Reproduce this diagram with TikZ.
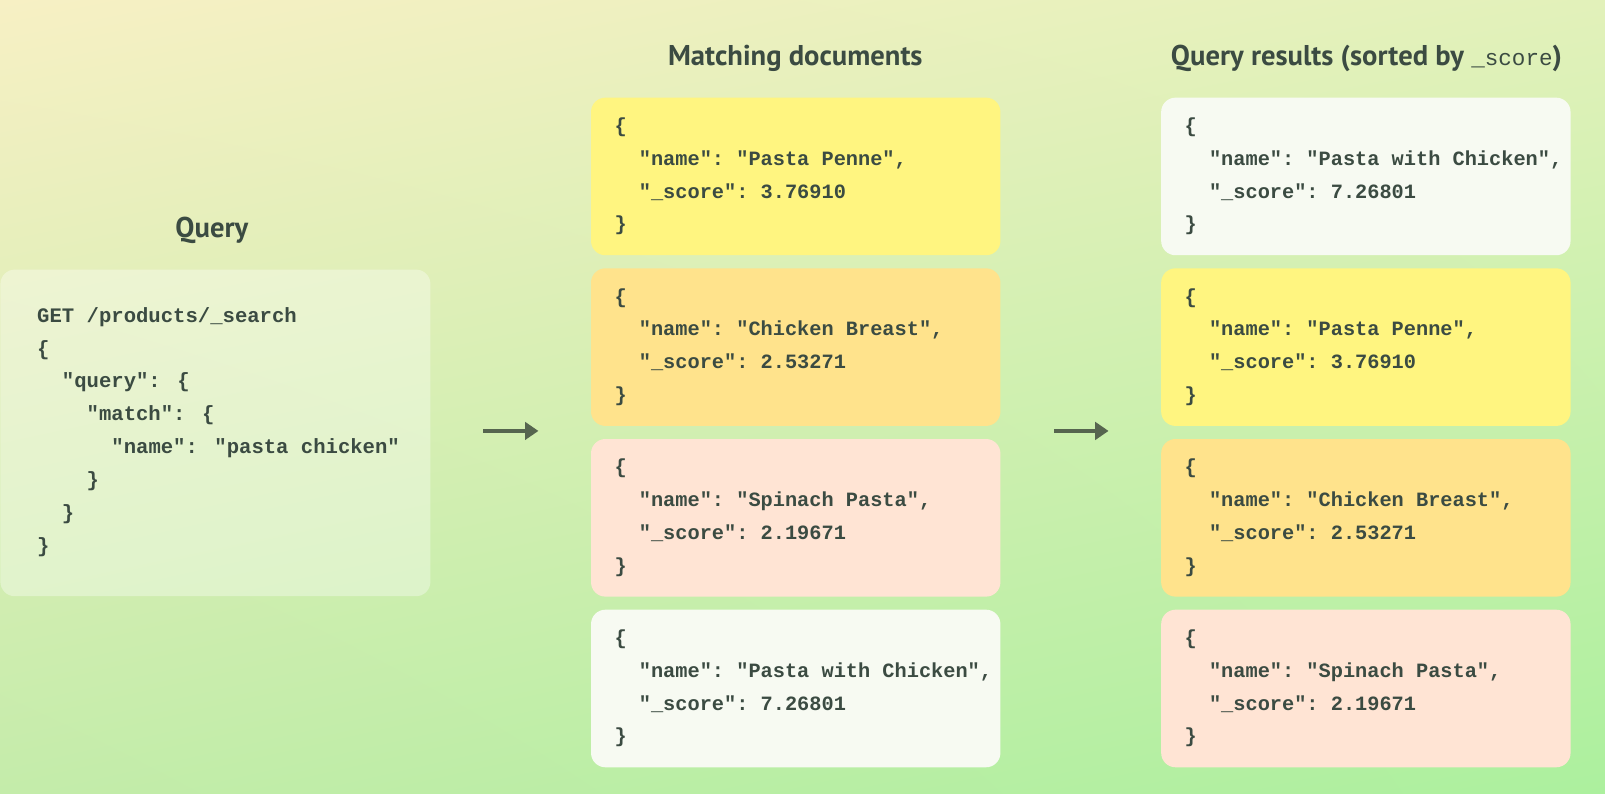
\documentclass[tikz,border=0pt]{standalone}
\usepackage{fontspec}
\setmainfont{PT Sans}
\newfontfamily\codefont{Liberation Mono}
\usetikzlibrary{positioning,arrows.meta,shadings}
\definecolor{textColor}{RGB}{59,75,66}
\definecolor{arrowColor}{RGB}{86,101,79}
\definecolor{yellowDoc}{RGB}{255,245,128}
\definecolor{orangeDoc}{RGB}{255,227,140}
\definecolor{pinkDoc}{RGB}{255,228,212}
\definecolor{whiteDoc}{RGB}{247,250,242}
\definecolor{bgTopLeft}{RGB}{247,240,196}
\definecolor{bgTopRight}{RGB}{226,241,186}
\definecolor{bgBottomLeft}{RGB}{196,236,170}
\definecolor{bgBottomRight}{RGB}{172,240,158}
\tikzstyle{pixels} = [x = .5118pt, y = -.5118pt]
\tikzstyle{titleText} = [font=\bfseries\fontsize{14.3}{16}\selectfont, text=textColor, inner sep=0pt]
\tikzstyle{docBox} = [rectangle, rounded corners=7.2pt, minimum width=204.7pt, minimum height=78.8pt, text width=181.2pt, inner xsep=11.75pt, inner ysep=0pt, align=left, anchor=north west, text=textColor, font=\codefont\bfseries\fontsize{10.15}{16.4}\selectfont]
\tikzstyle{queryBox} = [rectangle, rounded corners=7.2pt, minimum width=215pt, minimum height=163.3pt, anchor=north west, fill=white, fill opacity=.35, inner sep=0pt]
\tikzstyle{queryCode} = [anchor=west, inner sep=0pt, align=left, text=textColor, font=\codefont\bfseries\fontsize{10.3}{16.45}\selectfont]
\tikzstyle{flowArrow} = [arrowColor, line width=1.65pt, -{Triangle[length=6.7pt, width=8.7pt]}]
\newcommand{\ind}[1]{\hphantom{#1}}
\newcommand{\monoSpaces}{\frenchspacing\spaceskip=\fontdimen2\font\xspaceskip=\fontdimen2\font\relax}
\newcommand{\docBox}[5]{\node [docBox, fill=#3, #2] (#1) {\monoSpaces\{\\\mbox{\ind{xx}"name": "#4",}\\\mbox{\ind{xx}"\_score": #5}\\\}};}

\begin{document}
\begin{tikzpicture}[pixels]
  \shade [upper left=bgTopLeft, upper right=bgTopRight, lower left=bgBottomLeft, lower right=bgBottomRight] (0,0) rectangle (1568,775);
  \useasboundingbox (0,0) rectangle (1568,775);

  % query
  \node [titleText] (queryTitle) at (207,225) {Query};
  \node [queryBox] (qbox) at (0,263) {};
  \node [queryCode] (qcode) at (36,422) {\monoSpaces GET /products/\_search\\\{\\\ind{xx}"query": \{\\\ind{xxxx}"match": \{\\\ind{xxxxxx}"name": "pasta chicken"\\\ind{xxxx}\}\\\ind{xx}\}\\\}};

  % matching documents
  \node [titleText] (matchTitle) at (777,57) {Matching documents};
  \docBox{penneA}{at={(577,95)}}{yellowDoc}{Pasta Penne}{3.76910}
  \docBox{breastA}{below=6.14pt of penneA}{orangeDoc}{Chicken Breast}{2.53271}
  \docBox{spinachA}{below=6.14pt of breastA}{pinkDoc}{Spinach Pasta}{2.19671}
  \docBox{withA}{below=6.14pt of spinachA}{whiteDoc}{Pasta with Chicken}{7.26801}

  % sorted results
  \node [titleText] (resultTitle) at (1335,57) {Query results (sorted by {\codefont\mdseries\fontsize{11.3}{16}\selectfont\_score})};
  \docBox{withB}{at={(1134,95)}}{whiteDoc}{Pasta with Chicken}{7.26801}
  \docBox{penneB}{below=6.14pt of withB}{yellowDoc}{Pasta Penne}{3.76910}
  \docBox{breastB}{below=6.14pt of penneB}{orangeDoc}{Chicken Breast}{2.53271}
  \docBox{spinachB}{below=6.14pt of breastB}{pinkDoc}{Spinach Pasta}{2.19671}

  % arrows
  \coordinate (arrowAStart) at (472,421);
  \coordinate (arrowAEnd) at (526,421);
  \coordinate (arrowBStart) at (1030,421);
  \coordinate (arrowBEnd) at (1083,421);
  \draw [flowArrow] (arrowAStart) -- (arrowAEnd);
  \draw [flowArrow] (arrowBStart) -- (arrowBEnd);
\end{tikzpicture}
\end{document}
